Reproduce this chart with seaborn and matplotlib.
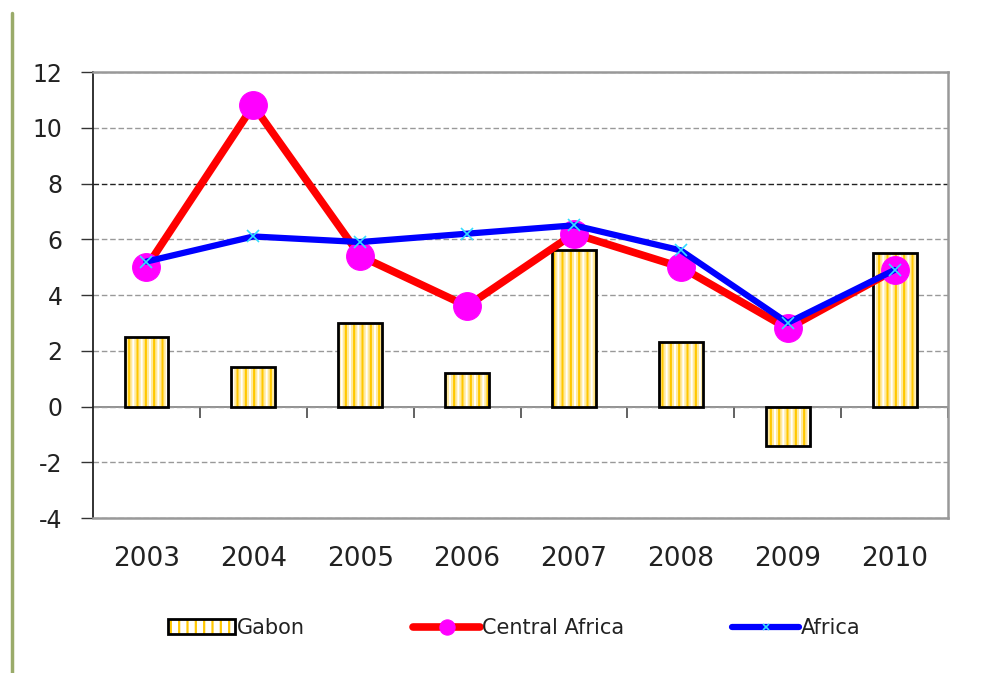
import numpy as np
import matplotlib
matplotlib.use("Agg")
import matplotlib.pyplot as plt
import seaborn as sns
from matplotlib.lines import Line2D
from matplotlib.patches import Patch

# --- data ---
years = ["2003", "2004", "2005", "2006", "2007", "2008", "2009", "2010"]
gabon = [2.5, 1.4, 3.0, 1.2, 5.6, 2.3, -1.4, 5.5]
central_africa = [5.0, 10.8, 5.4, 3.6, 6.2, 5.0, 2.8, 4.9]
africa = [5.2, 6.1, 5.9, 6.2, 6.5, 5.6, 3.0, 4.9]
y_ticks = [-4, -2, 0, 2, 4, 6, 8, 10, 12]

sns.set_style("white")
plt.rcParams["font.family"] = ["DejaVu Sans"]
plt.rcParams["hatch.linewidth"] = 1.6

fig = plt.figure(figsize=(9.81, 6.73), dpi=100)
ax = fig.add_axes([0.0948, 0.2303, 0.8716, 0.6627])

# --- bars: pale + gold vertical hatch, then black outline on top ---
sns.barplot(x=years, y=gabon, color="white", edgecolor="#ffeaa0",
            linewidth=0, hatch="||||", width=0.41, errorbar=None, ax=ax, zorder=2)
sns.barplot(x=years, y=gabon, color="#ffc800", fill=False, linewidth=0,
            hatch="||", width=0.41, errorbar=None, ax=ax, zorder=2.5)
sns.barplot(x=years, y=gabon, color="black", fill=False, linewidth=2,
            width=0.41, errorbar=None, ax=ax, zorder=3)

# --- lines ---
pos = np.arange(len(years))
sns.lineplot(x=pos, y=central_africa, color="red", linewidth=5.5,
             marker="o", markersize=20, markerfacecolor="magenta",
             markeredgecolor="magenta", ax=ax, zorder=4)
sns.lineplot(x=pos, y=africa, color="blue", linewidth=4.5,
             marker="x", markersize=9, markeredgecolor="#33ddff",
             markeredgewidth=1.2, ax=ax, zorder=5)
line_handles = ax.lines[-2:]

ax.set_xlim(-0.5, len(years) - 0.5)
ax.set_ylim(y_ticks[0], y_ticks[-1])
ax.set_yticks(y_ticks)
ax.set_yticklabels([str(t) for t in y_ticks])

# --- grid ---
ax.yaxis.grid(True, linestyle=(0, (4, 2)), color="#999999", linewidth=1)
ax.set_axisbelow(True)
for t, gl in zip(y_ticks, ax.get_ygridlines()):
    if t == 8:
        gl.set_color("#222222")

# --- spines and ticks ---
for side in ["top", "right", "bottom"]:
    ax.spines[side].set_color("#999999")
    ax.spines[side].set_linewidth(1.8)
ax.spines["left"].set_color("#222222")
ax.spines["left"].set_linewidth(1.3)

ax.tick_params(axis="y", direction="out", length=9, width=1, color="#333333",
               pad=13, labelsize=17, labelcolor="#222222", left=True)
ax.tick_params(axis="x", length=0, pad=20, labelsize=19, labelcolor="#222222")
ax.set_xlabel("")
ax.set_ylabel("")

# zero axis with category boundary ticks
zero_frac = (0 - y_ticks[0]) / (y_ticks[-1] - y_ticks[0])
sec = ax.secondary_xaxis(zero_frac)
sec.set_xticks(np.arange(0.5, len(years), 1.0))
sec.set_xticklabels([])
sec.tick_params(direction="out", length=8, width=1.3, color="#555555")
sec.spines["bottom"].set_color("#888888")
sec.spines["bottom"].set_linewidth(1.3)

# --- legend ---
bar_h = (Patch(facecolor="white", edgecolor="#ffc800", hatch="||", linewidth=0),
         Patch(facecolor="none", edgecolor="black", linewidth=2))
leg = fig.legend([bar_h] + list(line_handles),
                 ["Gabon", "Central Africa", "Africa"],
                 loc="center", bbox_to_anchor=(0.5245, 0.067), ncol=3,
                 frameon=False, fontsize=15, handlelength=3.2,
                 handletextpad=0.1, columnspacing=5.2, markerscale=0.55)
for txt in leg.get_texts():
    txt.set_color("#222222")

# green rule at the left edge of the page
fig.add_artist(Line2D([12 / 981, 12 / 981], [0, 1 - 13 / 673],
                      transform=fig.transFigure, color="#9aab6a", linewidth=2.5))

fig.savefig("out.png", dpi=100, facecolor="white")
